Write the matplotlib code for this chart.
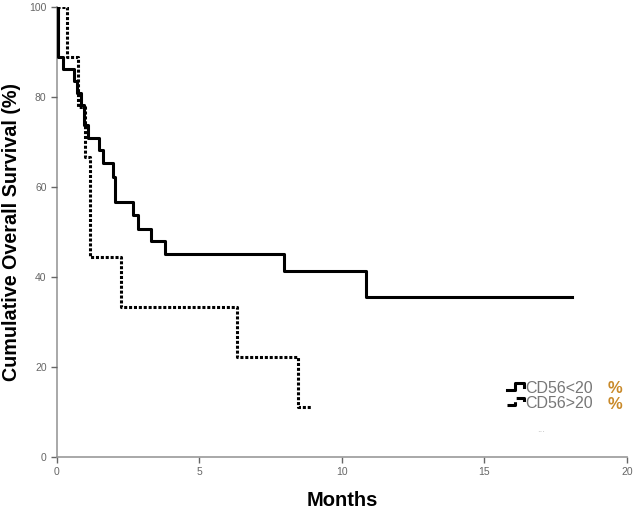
import numpy as np
import matplotlib
matplotlib.use("Agg")
import matplotlib.pyplot as plt
from matplotlib.legend_handler import HandlerLine2D
from matplotlib.lines import Line2D

plt.rcParams['font.family'] = ['Liberation Sans', 'DejaVu Sans']

# Kaplan-Meier steps (time in months, survival in %)
low_t = [0, 0.05, 0.22, 0.6, 0.69, 0.86, 0.95, 1.08, 1.47, 1.62, 1.97, 2.03,
         2.67, 2.84, 3.3, 3.78, 7.97, 10.83, 18.08]
low_s = [100, 88.9, 86.3, 83.6, 81.0, 78.2, 73.8, 71.0, 68.2, 65.3, 62.3, 56.7,
         53.7, 50.8, 48.1, 45.2, 41.4, 35.5, 35.5]

high_t = [0, 0.34, 0.75, 1.0, 1.17, 2.24, 6.32, 8.46, 8.94]
high_s = [100, 88.9, 77.8, 66.7, 44.4, 33.3, 22.2, 11.1, 11.1]

labels = ['CD56<20', 'CD56>20']
x_ticks = [0, 5, 10, 15, 20]
y_ticks = [0, 20, 40, 60, 80, 100]


class StepHandler(HandlerLine2D):
    # legend sample drawn as a small step, like the SPSS output
    def create_artists(self, legend, orig_handle, xdescent, ydescent,
                       width, height, fontsize, trans):
        x = np.array([0, 0.5, 0.5, 1.0, 1.0]) * width - xdescent
        y = np.array([0.25, 0.25, 0.9, 0.9, 0.6]) * height - ydescent
        line = Line2D(x, y, color=orig_handle.get_color(),
                      linestyle=orig_handle.get_linestyle(),
                      linewidth=orig_handle.get_linewidth())
        line.set_transform(trans)
        return [line]


fig = plt.figure(figsize=(6.36, 5.13), dpi=100)
ax = fig.add_axes([0.0896, 0.109, 0.896, 0.877])

l1, = ax.step(low_t, low_s, where='post', color='black', lw=2.2)
l2, = ax.step(high_t, high_s, where='post', color='black', lw=2.2,
              linestyle=(0, (1, 0.6)))

ax.set_xlim(0, 20)
ax.set_ylim(0, 100)
ax.set_xticks(x_ticks)
ax.set_yticks(y_ticks)
ax.tick_params(colors='#666666', labelsize=7.5, length=4, width=1,
               labelcolor='#666666')
for s in ['top', 'right']:
    ax.spines[s].set_visible(False)
for s in ['left', 'bottom']:
    ax.spines[s].set_color('#999999')
    ax.spines[s].set_linewidth(1.2)
ax.spines['left'].set_zorder(0)

ax.set_xlabel('Months', fontsize=14.5, fontweight='bold', labelpad=10)
ax.set_ylabel('Cumulative Overall Survival (%)', fontsize=14.2,
              fontweight='bold', labelpad=6)

leg = ax.legend([l1, l2], labels, loc='lower right',
                bbox_to_anchor=(0.965, 0.07), frameon=False, fontsize=11.5,
                handlelength=1.1, handletextpad=0.05, labelspacing=0.0,
                handler_map={Line2D: StepHandler()})
for t in leg.get_texts():
    t.set_color('#777777')

for y in [0.152, 0.116]:
    ax.text(0.98, y, '%', transform=ax.transAxes, color='#c98a2a',
            fontsize=12, fontweight='bold', ha='center', va='center')
ax.text(0.85, 0.055, '...', transform=ax.transAxes, color='#bbbbbb',
        fontsize=7, ha='center')

fig.savefig('out.png', dpi=100)
